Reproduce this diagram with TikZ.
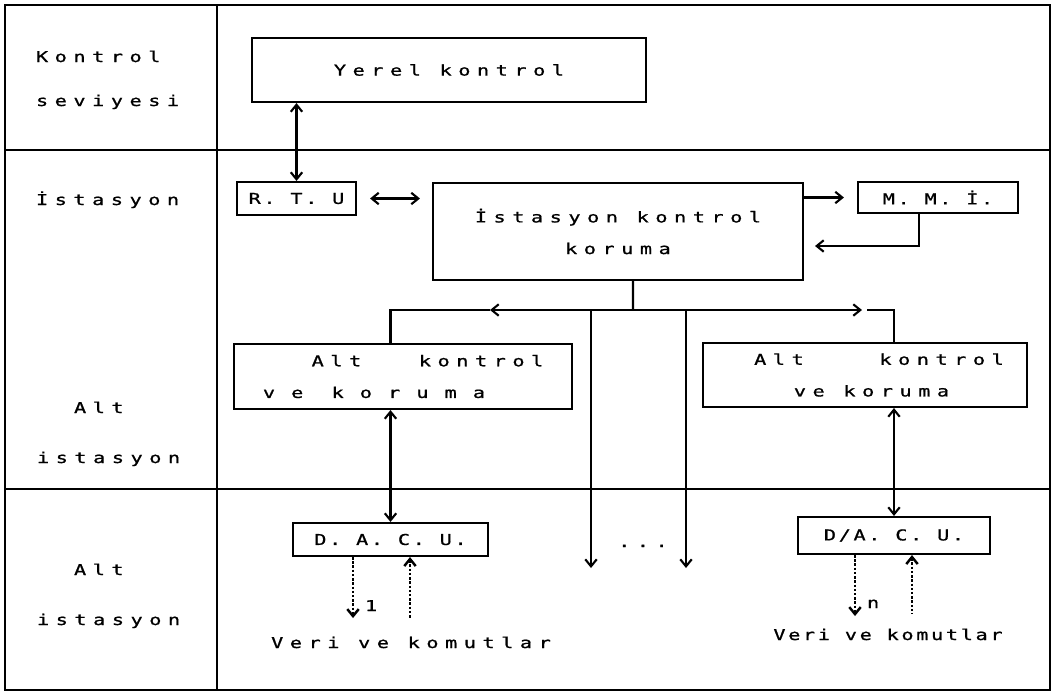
\documentclass[tikz,border=0pt]{standalone}
\usepackage{fontspec}
\usetikzlibrary{arrows.meta,positioning,calc}
\newfontfamily\dotfont[LetterSpace=44,FakeStretch=1.35,FakeBold=1]{DejaVu Sans Mono}
\newfontfamily\dotfontn[LetterSpace=18,FakeStretch=1.35,FakeBold=1]{DejaVu Sans Mono}
\newfontfamily\dotfontw[LetterSpace=108,FakeStretch=1.35,FakeBold=1]{DejaVu Sans Mono}

\begin{document}
\begin{tikzpicture}[x=0.02cm,y=-0.02cm,line width=1.2pt,>={Straight Barb[length=4pt,width=6.5pt]},
  box/.style={draw,rectangle,inner sep=0pt,align=center,font={\dotfont\fontsize{8.5}{18}\selectfont}},
  abbr/.style={box,font={\dotfontn\fontsize{8.5}{10}\selectfont}},
  lbl/.style={inner sep=0pt,anchor=base west,font={\dotfont\fontsize{8.5}{10}\selectfont}},
  dots/.style={densely dotted,line width=1.4pt}]
\useasboundingbox (0,0) rectangle (1055,698);
\draw (5,5) rectangle (1050,690);\draw (217,5)--(217,690);\draw (5,150)--(1050,150);\draw (5,489)--(1050,489);
\node[lbl] (lkon) at (35,62) {Kontrol};\node[lbl] (lsev) at (35,106) {seviyesi};
\node[lbl] (list) at (35,205) {İstasyon};
\node[lbl] (lalt) at (73,413) {Alt};\node[lbl] (lista) at (36,463) {istasyon};
\node[lbl] (lalt2) at (73,575) {Alt};\node[lbl] (lista2) at (36,625) {istasyon};
\node[box,minimum width=7.88cm,minimum height=1.28cm] (yerel) at (449,70) {Yerel kontrol};
\node[abbr,minimum width=2.38cm,minimum height=0.66cm] (rtu) at (296.5,198.5) {R. T. U};
\node[box,minimum width=7.4cm,minimum height=1.94cm] (ist) at (618,231.5) {İstasyon kontrol\\koruma};
\node[abbr,minimum width=3.2cm,minimum height=0.62cm] (mmi) at (938,197.5) {M. M. İ.};
\node[box,minimum width=6.76cm,minimum height=1.3cm] (altA) at (403,376.5) {\hspace*{0.98cm}Alt\hspace{0.78cm} kontrol\\{\dotfontw ve koruma}\hspace*{1.16cm}};
\node[box,minimum width=6.48cm,minimum height=1.28cm] (altB) at (865,375) {\hspace*{0.56cm}Alt\hspace{1.14cm} kontrol\\\hspace*{0.26cm}ve koruma};
\node[abbr,minimum width=3.9cm,minimum height=0.66cm] (dacuA) at (390.5,539.5) {D. A. C. U.};
\node[abbr,minimum width=3.84cm,minimum height=0.74cm] (dacuB) at (894,535.5) {D/A. C. U.};
\node[lbl,anchor=base] (veriA) at (411,648) {Veri ve komutlar};
\node[lbl,anchor=base,font={\dotfontn\fontsize{8.5}{10}\selectfont}] (veriB) at (888,640) {Veri ve komutlar};
\node[lbl,anchor=base] (etc) at (643,547) {...};
\node[lbl] (one) at (364,611) {1};\node[lbl] (enn) at (866,608) {n};
\coordinate (bus) at (633,310);\coordinate (tipL) at (490,310);\coordinate (tipR) at (862,310);\coordinate (gapR) at (867,310);
\coordinate (d1) at (591,568);\coordinate (d2) at (686,568);\coordinate (ret) at (815,246);
\draw[<->] (rtu.north) -- (rtu.north |- yerel.south);
\draw[<->,shorten <=0.26cm,shorten >=0.24cm] (rtu.east) -- (rtu.east -| ist.west);
\draw[->,shorten >=0.26cm] (ist.east |- mmi) -- (mmi.west);
\draw[->] ([xshift=-0.38cm]mmi.south) |- (ret);
\draw ([xshift=0.3cm]ist.south) -- (bus);
\draw[->] (bus) -- (tipL);\draw (tipL) -| (dacuA.north |- altA.north);
\draw[->] (bus) -- (tipR);\draw (gapR) -| (dacuB.north |- altB.north);
\draw[->] (d1 |- bus) -- (d1);\draw[->] (d2 |- bus) -- (d2);
\draw[<->] (dacuA.north |- altA.south) -- (dacuA.north);
\draw[<->] (dacuB.north |- altB.south) -- (dacuB.north);
\draw[->,dots] ([xshift=-0.75cm]dacuA.south) -- ++(0,61);\draw[<-,dots] ([xshift=0.39cm]dacuA.south) -- ++(0,61);
\draw[->,dots] ([xshift=-0.78cm]dacuB.south) -- ++(0,61);\draw[<-,dots] ([xshift=0.36cm]dacuB.south) -- ++(0,59);
\end{tikzpicture}
\end{document}
